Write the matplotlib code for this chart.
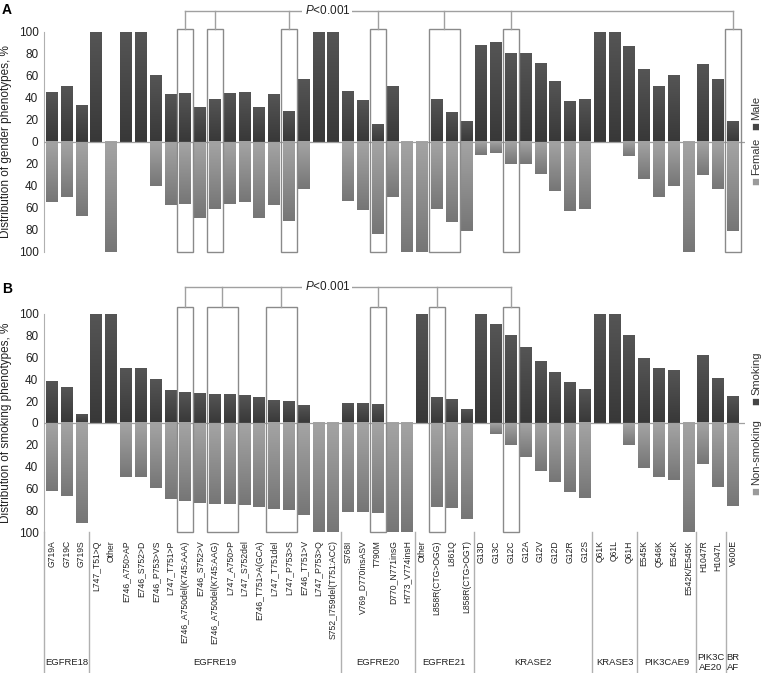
import matplotlib
matplotlib.use('Agg')
import matplotlib.pyplot as plt
import numpy as np
from matplotlib.colors import LinearSegmentedColormap
from matplotlib.patches import Rectangle
import matplotlib.transforms as mtransforms

plt.rcParams['font.family'] = ['Liberation Sans', 'DejaVu Sans']
plt.rcParams['mathtext.fontset'] = 'custom'
plt.rcParams['mathtext.it'] = 'Liberation Sans:italic'
plt.rcParams['mathtext.rm'] = 'Liberation Sans'

# --- data ---
mutations = ['G719A', 'G719C', 'G719S',
             'L747_T51>Q', 'Other', 'E746_A750>AP', 'E746_S752>D', 'E746_P753>VS',
             'L747_T751>P', 'E746_A750del(K745:AAA)', 'E746_S752>V',
             'E746_A750del(K745:AAG)', 'L747_A750>P', 'L747_S752del',
             'E746_T751>A(GCA)', 'L747_T751del', 'L747_P753>S', 'E746_T751>V',
             'L747_P753>Q', 'S752_I759del(T751:ACC)',
             'S768I', 'V769_D770insASV', 'T790M', 'D770_N771insG', 'H773_V774insH',
             'Other', 'L858R(CTG>OGG)', 'L861Q', 'L858R(CTG>OGT)',
             'G13D', 'G13C', 'G12C', 'G12A', 'G12V', 'G12D', 'G12R', 'G12S',
             'Q61K', 'Q61L', 'Q61H',
             'E545K', 'Q546K', 'E542K', 'E542K/E545K',
             'H1047R', 'H1047L',
             'V600E']
groups = ['EGFRE18', 'EGFRE19', 'EGFRE20', 'EGFRE21', 'KRASE2', 'KRASE3',
          'PIK3CAE9', 'PIK3C\nAE20', 'BR\nAF']
group_sizes = [3, 17, 5, 4, 8, 3, 4, 2, 1]

male = [45, 50, 33, 100, 0, 100, 100, 60, 43, 44, 31, 39, 44, 45, 31, 43, 28, 57,
        100, 100, 46, 38, 16, 50, 0, 0, 39, 27, 19, 88, 90, 80, 80, 71, 55, 37, 39,
        100, 100, 87, 66, 50, 60, 0, 70, 57, 19]
female = [55, 50, 67, 0, 100, 0, 0, 40, 57, 56, 69, 61, 56, 55, 69, 57, 72, 43,
          0, 0, 54, 62, 84, 50, 100, 100, 61, 73, 81, 12, 10, 20, 20, 29, 45, 63, 61,
          0, 0, 13, 34, 50, 40, 100, 30, 43, 81]
smoking = [38, 33, 8, 100, 100, 50, 50, 40, 30, 28, 27, 26, 26, 25, 23, 21, 20, 16,
           0, 0, 18, 18, 17, 0, 0, 100, 23, 22, 12, 100, 90, 80, 69, 56, 46, 37, 31,
           100, 100, 80, 59, 50, 48, 0, 62, 41, 24]
non_smoking = [62, 67, 92, 0, 0, 50, 50, 60, 70, 72, 73, 74, 74, 75, 77, 79, 80, 84,
               100, 100, 82, 82, 83, 100, 100, 0, 77, 78, 88, 0, 10, 20, 31, 44, 54, 63, 69,
               0, 0, 20, 41, 50, 52, 100, 38, 59, 76]

# highlighted mutations (first, last index of each box)
boxes_a = [(9, 9), (11, 11), (16, 16), (22, 22), (26, 27), (31, 31), (46, 46)]
boxes_b = [(9, 9), (11, 12), (15, 16), (22, 22), (26, 26), (31, 31)]

x = np.arange(len(mutations))
up_cmap = LinearSegmentedColormap.from_list('up', ['#383838', '#555555'])
down_cmap = LinearSegmentedColormap.from_list('down', ['#a4a4a4', '#767676'])
grad = np.linspace(0, 1, 64).reshape(-1, 1)

W, H = 761, 673
fig = plt.figure(figsize=(W / 100, H / 100), dpi=100)
ax_a = fig.add_axes([0.0578, 0.6256, 0.921, 0.3269])
ax_b = fig.add_axes([0.0578, 0.2095, 0.921, 0.3240])


def legend_item(py_square, label, sq_color):
    # rotated legend entry at the right edge (pixel position from the top)
    fig.text(756 / W, 1 - py_square / H, '\u25a0', rotation=90, ha='center', va='center',
             fontsize=6, color=sq_color, family=['DejaVu Sans'])
    fig.text(756 / W, 1 - (py_square - 6) / H, label, rotation=90, ha='center', va='bottom',
             fontsize=8, color='#333333')


def draw_panel(ax, top, bottom, boxes, box_top, bracket_y, ylabel):
    bars_up = ax.bar(x, top, width=0.8, color='#474747', zorder=2)
    bars_dn = ax.bar(x, [-v for v in bottom], width=0.8, color='#8e8e8e', zorder=2)
    # vertical shading of each bar
    for bars, cmap in [(bars_up, up_cmap), (bars_dn, down_cmap)]:
        for p in bars:
            if p.get_height() == 0:
                continue
            x0, w, h = p.get_x(), p.get_width(), p.get_height()
            ax.imshow(grad, cmap=cmap, extent=[x0, x0 + w, 0, h], origin='lower',
                      aspect='auto', zorder=3, interpolation='bilinear')
    ax.axhline(0, color='#a0a0a0', lw=0.9, zorder=4)

    for a, b in boxes:
        ax.add_patch(Rectangle((a - 0.54, -100), b - a + 1.08, 100 + box_top,
                               fill=False, ec='#8a8a8a', lw=1.0, zorder=5, clip_on=False))
    centers = [(a + b) / 2 for a, b in boxes]
    ax.plot([centers[0], centers[-1]], [bracket_y, bracket_y], color='#a0a0a0', lw=1.0,
            clip_on=False, zorder=5)
    for c in centers:
        ax.plot([c, c], [box_top, bracket_y], color='#a0a0a0', lw=1.0, clip_on=False, zorder=5)
    ax.text(18.6, bracket_y, '$P$<0.001', ha='center', va='center', fontsize=8.5, color='#222222',
            bbox=dict(fc='white', ec='none', pad=1.5), zorder=6, clip_on=False)

    ax.set_xlim(-0.54, 46.8)
    ax.set_ylim(-100, 100)
    ticks = np.arange(-100, 101, 20)
    ax.set_yticks(ticks)
    ax.set_yticklabels([str(abs(t)) for t in ticks], fontsize=8.5, color='#222222')
    ax.tick_params(axis='y', length=0, pad=4)
    for s in ['top', 'right', 'bottom']:
        ax.spines[s].set_visible(False)
    ax.spines['left'].set_color('#b0b0b0')
    ax.set_ylabel(ylabel, fontsize=8.5, color='#222222', labelpad=5)


draw_panel(ax_a, male, female, boxes_a, 103, 119.5, 'Distribution of gender phenotypes, %')
draw_panel(ax_b, smoking, non_smoking, boxes_b, 106, 125, 'Distribution of smoking phenotypes, %')

fig.text(2 / W, 1 - 10 / H, 'A', fontsize=10, fontweight='bold', ha='left', va='center')
fig.text(2 / W, 1 - 289 / H, 'B', fontsize=10, fontweight='bold', ha='left', va='center')

legend_item(126, 'Male', '#444444')
legend_item(181, 'Female', '#9a9a9a')
legend_item(401, 'Smoking', '#444444')
legend_item(491, 'Non-smoking', '#9a9a9a')

ax_a.set_xticks([])
ax_b.set_xticks(x)
ax_b.set_xticklabels(mutations, rotation=90, fontsize=6.2, color='#222222', va='top')
ax_b.tick_params(axis='x', length=0, pad=6)

# group table under panel B
trans = mtransforms.blended_transform_factory(ax_b.transData, ax_b.transAxes)
ax_b.plot([-0.54, -0.54], [0, -0.65], color='#b0b0b0', lw=1.0, transform=trans, clip_on=False)
start = 0
for name, n in zip(groups, group_sizes):
    end = start + n
    if end < len(mutations):
        ax_b.plot([end - 0.5, end - 0.5], [0, -0.65], color='#b0b0b0', lw=1.0,
                  transform=trans, clip_on=False)
    ax_b.text((start + end - 1) / 2, -0.60, name, transform=trans, ha='center', va='center',
              fontsize=6.8, color='#222222', linespacing=1.1)
    start = end

fig.savefig('out.png', dpi=100)
